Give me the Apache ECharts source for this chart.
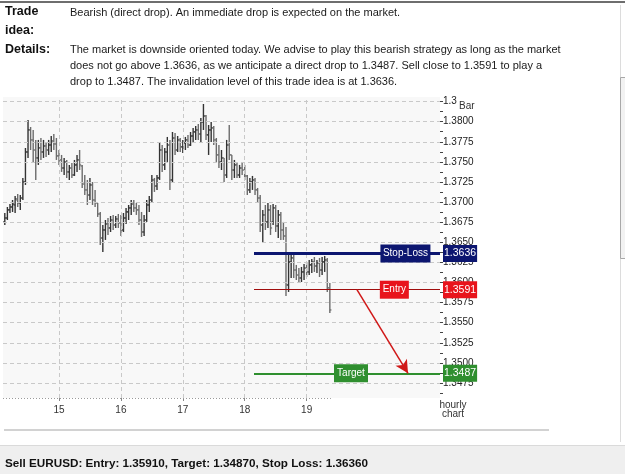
<!DOCTYPE html>
<html><head><meta charset="utf-8">
<script src="https://cdn.jsdelivr.net/npm/echarts@6/dist/echarts.min.js"></script>
<style>html,body{margin:0;padding:0;background:#fff;overflow:hidden}#c{width:625px;height:474px}</style>
</head><body><div id="c"></div>
<script>
// ---- data (hourly EURUSD bars; hour 0 = start of day 15) ----
const firstHour = -21;
const opens = [
1.36753,1.36802,1.36902,1.36939,1.36964,1.37026,1.36989,1.37051,1.37250,1.37623,
1.37897,1.37773,1.37648,1.37549,1.37673,1.37623,1.37698,1.37648,1.37710,1.37760,
1.37723,1.37574,1.37524,1.37424,1.37499,1.37375,1.37424,1.37337,1.37462,1.37524,
1.37449,1.37225,1.37151,1.37088,1.37213,1.37026,1.36989,1.36852,1.36553,1.36653,
1.36728,1.36678,1.36777,1.36715,1.36790,1.36740,1.36653,1.36802,1.36877,1.36927,
1.36976,1.36927,1.36902,1.36777,1.36628,1.36777,1.36964,1.37026,1.37275,1.37200,
1.37300,1.37648,1.37462,1.37623,1.37710,1.37275,1.37797,1.37648,1.37773,1.37686,
1.37735,1.37773,1.37710,1.37822,1.37872,1.37897,1.37847,1.37997,1.38071,1.37835,
1.37897,1.37922,1.37773,1.37586,1.37499,1.37549,1.37337,1.37710,1.37586,1.37399,
1.37462,1.37337,1.37424,1.37399,1.37325,1.37151,1.37250,1.37275,1.37151,1.37051,
1.36715,1.36840,1.36753,1.36902,1.36753,1.36927,1.36703,1.36840,1.36653,1.36578,
1.35969,1.36255,1.36305,1.36155,1.36093,1.36056,1.36131,1.36180,1.36131,1.36218,
1.36255,1.36205,1.36243,1.36155,1.36255,1.36280,1.35932];
const highs = [
1.36864,1.36939,1.36976,1.37026,1.37076,1.37101,1.37088,1.37300,1.37673,1.38021,
1.37934,1.37897,1.37773,1.37773,1.37797,1.37773,1.37748,1.37773,1.37822,1.37847,
1.37797,1.37648,1.37586,1.37549,1.37524,1.37462,1.37487,1.37524,1.37586,1.37648,
1.37462,1.37337,1.37275,1.37300,1.37250,1.37151,1.36989,1.36877,1.36715,1.36777,
1.36802,1.36827,1.36840,1.36827,1.36852,1.36840,1.36864,1.36927,1.36964,1.37026,
1.37026,1.36989,1.36964,1.36877,1.36840,1.37026,1.37076,1.37337,1.37300,1.37337,
1.37735,1.37710,1.37673,1.37810,1.37773,1.37872,1.37860,1.37822,1.37797,1.37773,
1.37810,1.37835,1.37872,1.37922,1.37947,1.37972,1.38046,1.38220,1.38084,1.37959,
1.37997,1.37947,1.37797,1.37710,1.37648,1.37549,1.37773,1.37959,1.37586,1.37524,
1.37487,1.37462,1.37499,1.37462,1.37337,1.37300,1.37325,1.37300,1.37176,1.37088,
1.36902,1.36964,1.36989,1.36964,1.36976,1.36964,1.36902,1.36877,1.36753,1.36690,
1.36342,1.36379,1.36342,1.36218,1.36180,1.36193,1.36230,1.36255,1.36280,1.36292,
1.36317,1.36280,1.36305,1.36317,1.36330,1.36305,1.35994];
const lows = [
1.36715,1.36777,1.36864,1.36877,1.36864,1.36939,1.36902,1.37026,1.37213,1.37549,
1.37648,1.37499,1.37275,1.37462,1.37524,1.37549,1.37561,1.37586,1.37623,1.37648,
1.37524,1.37462,1.37375,1.37337,1.37300,1.37275,1.37300,1.37325,1.37375,1.37399,
1.37176,1.37088,1.36964,1.37026,1.36964,1.36939,1.36815,1.36466,1.36379,1.36529,
1.36591,1.36628,1.36653,1.36678,1.36678,1.36578,1.36628,1.36728,1.36777,1.36840,
1.36877,1.36840,1.36715,1.36566,1.36578,1.36753,1.36877,1.37001,1.37126,1.37151,
1.37275,1.37375,1.37399,1.37499,1.37151,1.37250,1.37586,1.37623,1.37623,1.37611,
1.37648,1.37673,1.37698,1.37748,1.37773,1.37773,1.37748,1.37897,1.37773,1.37586,
1.37748,1.37710,1.37499,1.37424,1.37399,1.37250,1.37300,1.37524,1.37275,1.37300,
1.37300,1.37300,1.37337,1.37275,1.37088,1.37113,1.37151,1.37088,1.37001,1.36628,
1.36491,1.36653,1.36678,1.36591,1.36715,1.36628,1.36553,1.36529,1.36529,1.35832,
1.35882,1.36056,1.36056,1.36031,1.35994,1.36006,1.36031,1.36068,1.36093,1.36118,
1.36131,1.36118,1.36068,1.36093,1.36131,1.35882,1.35621];
const closes = [
1.36802,1.36902,1.36939,1.36976,1.37039,1.36989,1.37051,1.37250,1.37623,1.37897,
1.37773,1.37648,1.37549,1.37673,1.37623,1.37698,1.37648,1.37710,1.37760,1.37723,
1.37574,1.37524,1.37424,1.37499,1.37375,1.37424,1.37337,1.37462,1.37524,1.37462,
1.37225,1.37151,1.37088,1.37213,1.37026,1.36989,1.36852,1.36553,1.36653,1.36728,
1.36678,1.36777,1.36715,1.36790,1.36740,1.36653,1.36802,1.36877,1.36927,1.36976,
1.36927,1.36902,1.36777,1.36628,1.36777,1.36964,1.37026,1.37275,1.37200,1.37300,
1.37648,1.37462,1.37623,1.37710,1.37275,1.37797,1.37648,1.37773,1.37686,1.37735,
1.37773,1.37710,1.37822,1.37872,1.37897,1.37847,1.37997,1.38071,1.37835,1.37897,
1.37922,1.37773,1.37586,1.37499,1.37549,1.37337,1.37710,1.37586,1.37399,1.37462,
1.37337,1.37424,1.37399,1.37325,1.37151,1.37250,1.37275,1.37151,1.37051,1.36715,
1.36840,1.36753,1.36902,1.36678,1.36927,1.36703,1.36840,1.36653,1.36578,1.35969,
1.36255,1.36305,1.36155,1.36093,1.36056,1.36131,1.36180,1.36131,1.36218,1.36255,
1.36205,1.36243,1.36155,1.36255,1.36280,1.35932,1.35658];
const dayTicks = [0, 24, 48, 72, 96];
const dayLabels = ['15', '16', '17', '18', '19'];
const priceLabels = [1.3475,1.3500,1.3525,1.3550,1.3575,1.3600,1.3625,1.3650,1.3675,1.3700,1.3725,1.3750,1.3775,1.3800,1.3825];
const stopLoss = 1.3636, entryPrice = 1.3591, targetPrice = 1.3487;

// ---- layout / style ----
const X_MIN = -21.7, X_MAX = 147.7, Y_MIN = 1.34563, Y_MAX = 1.38307;
const LEVEL_START = 75.6;          // hour where level lines begin
const ARROW_FROM = 115.5, ARROW_TO = 135.3;
const F = '"Liberation Sans", Arial, sans-serif';
const NAVY = '#0c1670', RED = '#e8141c', GREEN = '#2f8f2f', DARKRED = '#a00d0d';

const bars = opens.map((o, i) => [firstHour + i, o, highs[i], lows[i], closes[i]]);
const yTicks = [];
priceLabels.forEach(v => { yTicks.push(v); yTicks.push(+(v - 0.00125).toFixed(5)); });

function renderBar(params, api) {
  const t = api.value(0);
  const o = api.coord([t, api.value(1)]);
  const h = api.coord([t, api.value(2)]);
  const l = api.coord([t, api.value(3)]);
  const c = api.coord([t, api.value(4)]);
  const x = h[0];
  const col = api.value(4) >= api.value(1) ? '#333333' : '#6c6c6c';
  return { type: 'group', children: [
    { type: 'line', shape: { x1: x, y1: h[1], x2: x, y2: l[1] }, style: { stroke: col, lineWidth: 1.4 } },
    { type: 'line', shape: { x1: x - 1.6, y1: o[1], x2: x, y2: o[1] }, style: { stroke: col, lineWidth: 1.2 } },
    { type: 'line', shape: { x1: x, y1: c[1], x2: x + 1.6, y2: c[1] }, style: { stroke: col, lineWidth: 1.2 } }
  ]};
}

const gridLines = [];
priceLabels.forEach(v => gridLines.push([{ coord: [X_MIN, v] }, { coord: [X_MAX, v] }]));
dayTicks.forEach(v => gridLines.push([{ coord: [v, Y_MIN] }, { coord: [v, Y_MAX] }]));
gridLines.push([{ coord: [X_MIN, Y_MIN + 0.00003], lineStyle: { color: '#9a9a9a', type: [1, 2] } },
                { coord: [firstHour + opens.length - 0.6, Y_MIN + 0.00003] }]);

function levelLine(v, color, width, boxColor) {
  return [
    { coord: [LEVEL_START, v], lineStyle: { color: color, width: width, type: 'solid' },
      label: { show: true, position: 'end', distance: 3, formatter: v.toFixed(4), color: '#fff',
        backgroundColor: boxColor, padding: [2, 1, 1, 1], fontSize: 10.5, fontFamily: F, lineHeight: 14 } },
    { coord: [X_MAX, v] }
  ];
}
function tag(name, t, v, w, color) {
  return { name: name, coord: [t, v], symbol: 'rect', symbolSize: [w, 18], itemStyle: { color: color },
    label: { show: true, position: 'inside', formatter: name, color: '#fff', fontSize: 10, fontFamily: F } };
}

const chart = echarts.init(document.getElementById('c'), null, { renderer: 'canvas' });
chart.setOption({
  animation: false,
  backgroundColor: '#ffffff',
  grid: { left: 3, top: 97, width: 437, height: 301, show: true, backgroundColor: '#f8f8f8', borderWidth: 0 },
  xAxis: {
    type: 'value', min: X_MIN, max: X_MAX,
    axisLine: { show: false, onZero: false },
    axisTick: { show: true, customValues: dayTicks, length: 3, lineStyle: { color: '#888' } },
    axisLabel: { customValues: dayTicks, formatter: v => dayLabels[dayTicks.indexOf(v)] || '', fontSize: 10, color: '#333', margin: 7, fontFamily: F },
    splitLine: { show: false }
  },
  yAxis: {
    type: 'value', position: 'right', min: Y_MIN, max: Y_MAX, scale: true,
    axisLine: { show: false, onZero: false },
    axisTick: { show: true, customValues: yTicks, length: 3, lineStyle: { color: '#444' } },
    axisLabel: { customValues: priceLabels, margin: 3, fontSize: 10, color: '#222', fontFamily: F,
      formatter: v => Math.abs(v - 1.3825) < 1e-6 ? '1.3' : v.toFixed(4) },
    splitLine: { show: false }
  },
  series: [
    { type: 'line', data: [], z: 1, silent: true,
      markLine: { silent: true, symbol: ['none', 'none'], label: { show: false },
        lineStyle: { color: '#c9c9c9', width: 1, type: [4, 3] },
        data: gridLines } },
    { type: 'custom', name: 'EURUSD', z: 2, renderItem: renderBar, data: bars,
      encode: { x: 0, y: [1, 2, 3, 4] }, silent: true },
    { type: 'line', data: [], z: 3, silent: true,
      markLine: { silent: true, symbol: ['none', 'none'],
        data: [
          levelLine(stopLoss, NAVY, 3, NAVY),
          levelLine(entryPrice, DARKRED, 1, RED),
          levelLine(targetPrice, GREEN, 2, GREEN),
          [ { coord: [ARROW_FROM, entryPrice], symbol: 'none', lineStyle: { color: '#d01818', width: 1.5, type: 'solid' }, label: { show: false } },
            { coord: [ARROW_TO, targetPrice], symbol: 'arrow', symbolSize: [10, 13] } ]
        ] },
      markPoint: { silent: true, data: [
        tag('Stop-Loss', 134.3, stopLoss, 50, NAVY),
        tag('Entry', 130.0, entryPrice, 29, RED),
        tag('Target', 113.2, targetPrice, 34, GREEN)
      ] } }
  ],
  graphic: [
    { type: 'rect', shape: { x: 0, y: 1, width: 625, height: 2 }, style: { fill: '#6e6e6e' }, silent: true },
    { type: 'text', style: { x: 5, y: 12, text: 'Trade', font: 'bold 12.5px ' + F, fill: '#111', verticalAlign: 'middle' } },
    { type: 'text', style: { x: 5, y: 31, text: 'idea:', font: 'bold 12.5px ' + F, fill: '#111', verticalAlign: 'middle' } },
    { type: 'text', style: { x: 5, y: 50, text: 'Details:', font: 'bold 12.5px ' + F, fill: '#111', verticalAlign: 'middle' } },
    { type: 'text', style: { x: 70, y: 13, text: 'Bearish (direct drop). An immediate drop is expected on the market.', font: '11px ' + F, fill: '#1a1a1a', verticalAlign: 'middle' } },
    { type: 'text', style: { x: 70, y: 50, text: 'The market is downside oriented today. We advise to play this bearish strategy as long as the market', font: '11px ' + F, fill: '#1a1a1a', verticalAlign: 'middle' } },
    { type: 'text', style: { x: 70, y: 66, text: 'does not go above 1.3636, as we anticipate a direct drop to 1.3487. Sell close to 1.3591 to play a', font: '11px ' + F, fill: '#1a1a1a', verticalAlign: 'middle' } },
    { type: 'text', style: { x: 70, y: 82, text: 'drop to 1.3487. The invalidation level of this trade idea is at 1.3636.', font: '11px ' + F, fill: '#1a1a1a', verticalAlign: 'middle' } },
    { type: 'text', style: { x: 459, y: 106, text: 'Bar', font: '10px ' + F, fill: '#333', verticalAlign: 'middle' } },
    { type: 'text', style: { x: 453, y: 405, text: 'hourly', font: '10px ' + F, fill: '#333', verticalAlign: 'middle', align: 'center' } },
    { type: 'text', style: { x: 453, y: 414, text: 'chart', font: '10px ' + F, fill: '#333', verticalAlign: 'middle', align: 'center' } },
    { type: 'rect', shape: { x: 4, y: 429, width: 545, height: 2 }, style: { fill: '#d2d2d2' }, silent: true },
    { type: 'line', shape: { x1: 620.5, y1: 5, x2: 620.5, y2: 442 }, style: { stroke: '#dcdcdc', lineWidth: 1 }, silent: true },
    { type: 'rect', shape: { x: 620.5, y: 77.5, width: 5, height: 181 }, style: { fill: '#f2f2f2', stroke: '#a8a8a8', lineWidth: 1 }, silent: true },
    { type: 'rect', shape: { x: 0, y: 446, width: 625, height: 28 }, style: { fill: '#efefef' }, silent: true },
    { type: 'rect', shape: { x: 0, y: 445, width: 625, height: 1 }, style: { fill: '#dadada' }, silent: true },
    { type: 'text', style: { x: 5, y: 464, text: 'Sell EURUSD: Entry: 1.35910, Target: 1.34870, Stop Loss: 1.36360', font: 'bold 11.7px ' + F, fill: '#111', verticalAlign: 'middle' } }
  ]
});
</script></body></html>
